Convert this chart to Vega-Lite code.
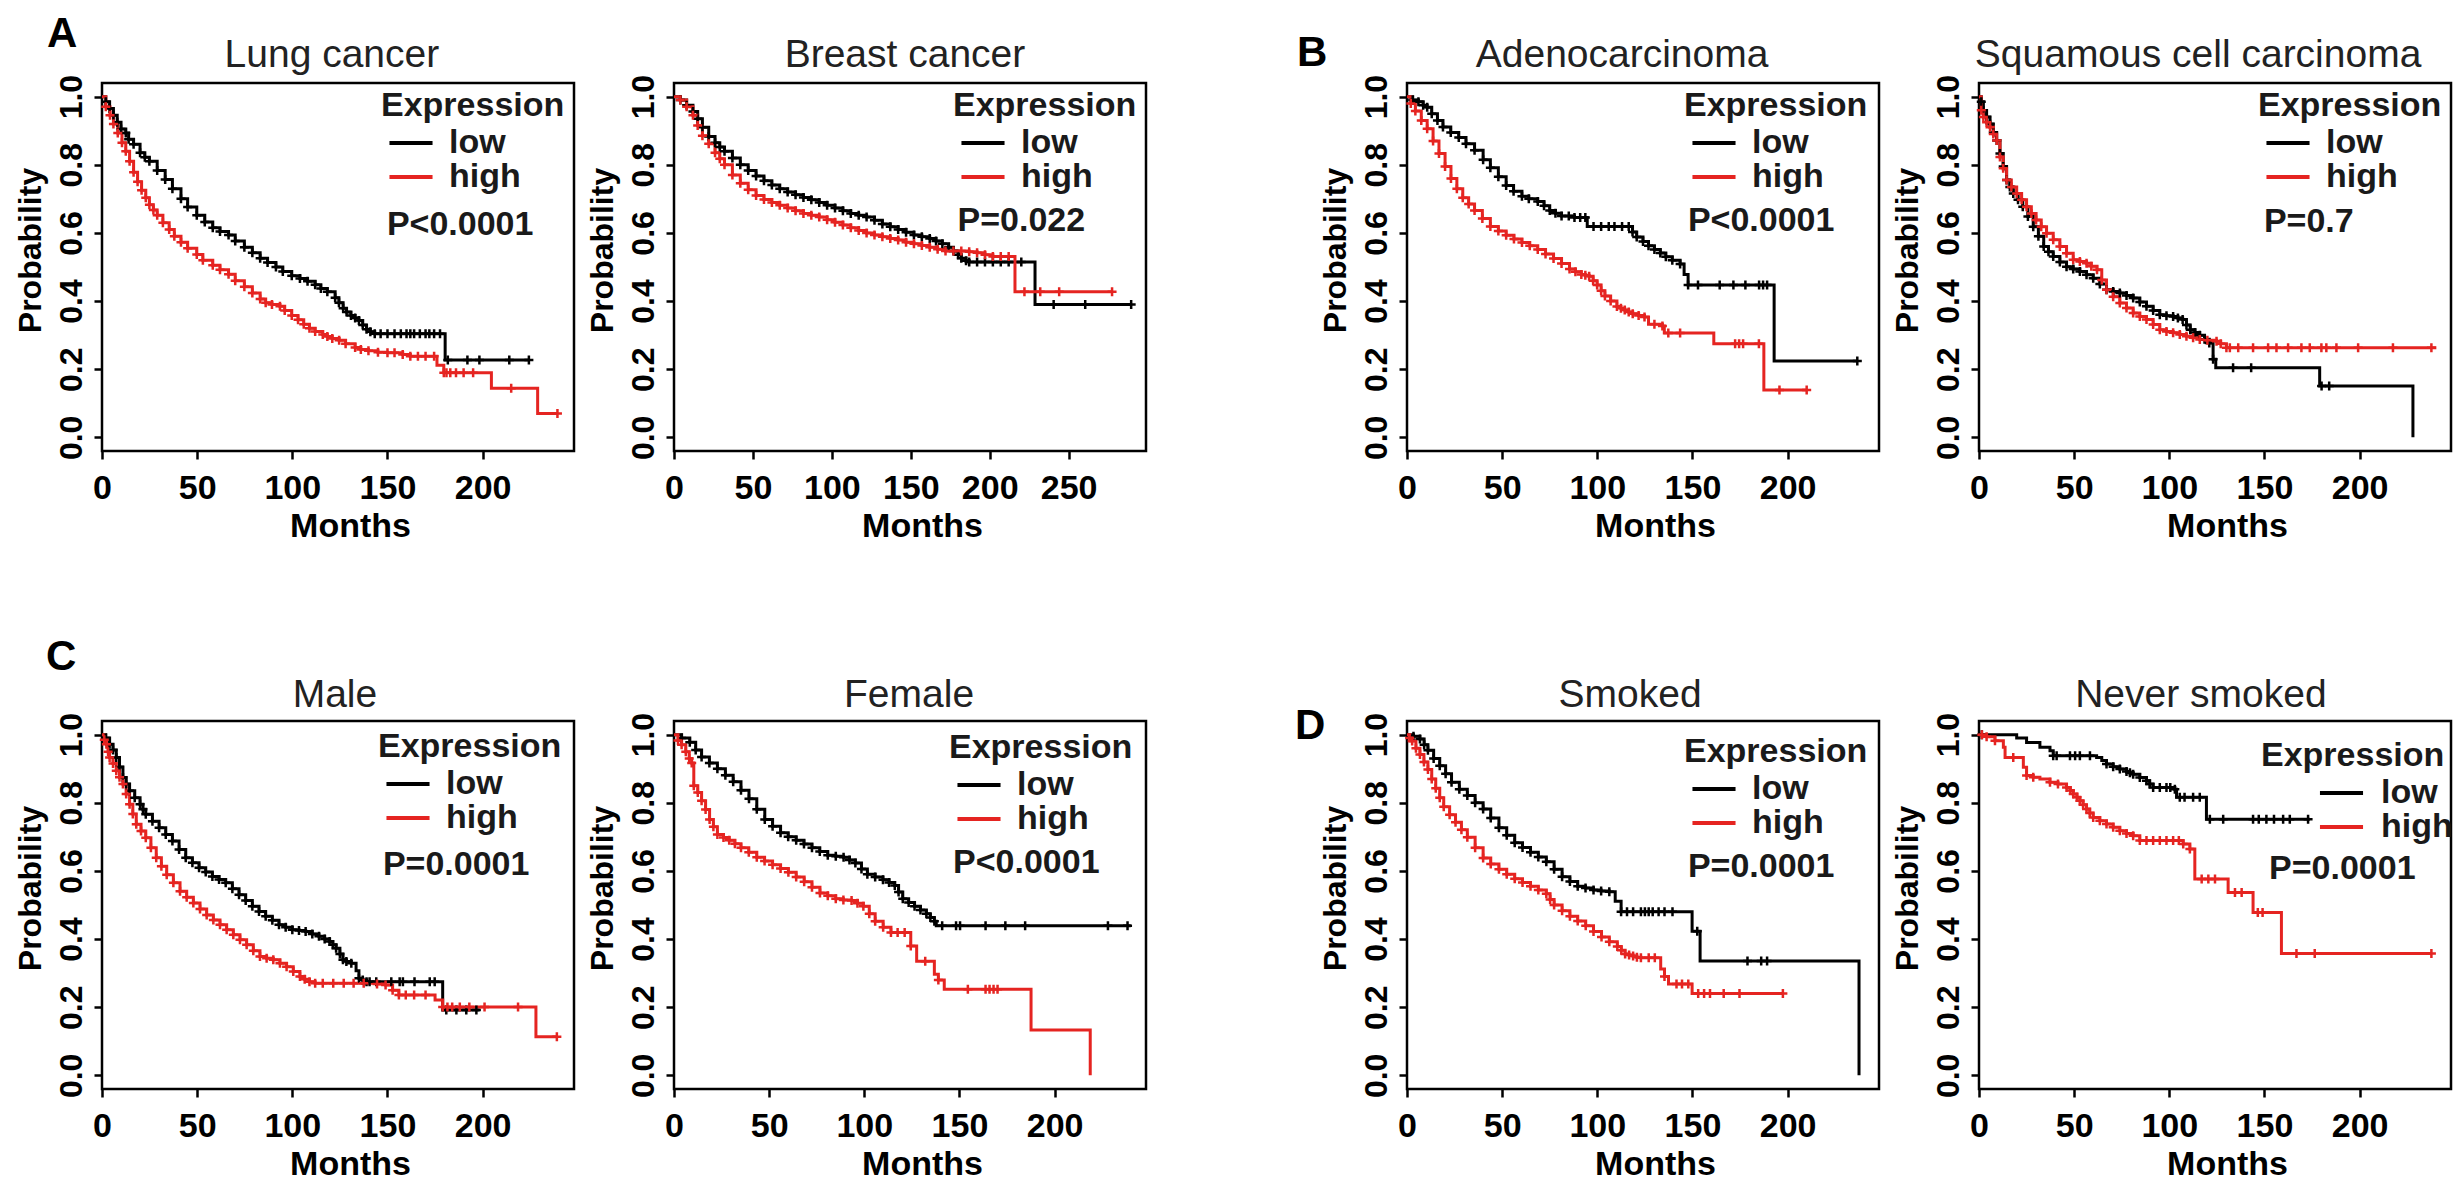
{
"$schema": "https://vega.github.io/schema/vega-lite/v6.json",
"padding": {"left": 12, "top": 11, "right": 0, "bottom": 0},
"bounds": "flush",
"columns": 5,
"spacing": {"row": 270, "column": 100},
"resolve": {"scale": {"color": "independent"}, "legend": {"color": "independent"}},
"datasets": {
"notes": [
{"p":1,"k":"L","txt":"A"},{"p":3,"k":"L","txt":"B"},{"p":5,"k":"L","txt":"C"},{"p":7,"k":"L","txt":"D"},
{"p":1,"k":"T","txt":"Lung cancer"},{"p":2,"k":"T","txt":"Breast cancer"},{"p":3,"k":"T","txt":"Adenocarcinoma"},{"p":4,"k":"T","txt":"Squamous cell carcinoma"},
{"p":5,"k":"T","txt":"Male"},{"p":6,"k":"T","txt":"Female"},{"p":7,"k":"T","txt":"Smoked"},{"p":8,"k":"T","txt":"Never smoked"},
{"p":1,"k":"P","txt":"P<0.0001"},{"p":2,"k":"P","txt":"P=0.022"},{"p":3,"k":"P","txt":"P<0.0001"},{"p":4,"k":"P","txt":"P=0.7"},
{"p":5,"k":"P","txt":"P=0.0001"},{"p":6,"k":"P","txt":"P<0.0001"},{"p":7,"k":"P","txt":"P=0.0001"},{"p":8,"k":"P","txt":"P=0.0001"}
],
"km": [
{"p":1,"g":"low","t":0,"s":1},{"p":1,"g":"low","t":2,"s":0.985,"c":1},{"p":1,"g":"low","t":4,"s":0.965,"c":1},{"p":1,"g":"low","t":6,"s":0.945,"c":1},{"p":1,"g":"low","t":8,"s":0.925,"c":1},{"p":1,"g":"low","t":10,"s":0.905,"c":1},{"p":1,"g":"low","t":12.5,"s":0.893,"c":1},{"p":1,"g":"low","t":14,"s":0.875,"c":1},{"p":1,"g":"low","t":16.6,"s":0.86,"c":1},{"p":1,"g":"low","t":20,"s":0.835,"c":1},{"p":1,"g":"low","t":22.5,"s":0.822,"c":1},{"p":1,"g":"low","t":24.9,"s":0.81,"c":1},{"p":1,"g":"low","t":29,"s":0.783,"c":1},{"p":1,"g":"low","t":33.2,"s":0.757,"c":1},{"p":1,"g":"low","t":37,"s":0.73,"c":1},{"p":1,"g":"low","t":41.5,"s":0.7,"c":1},{"p":1,"g":"low","t":45,"s":0.676,"c":1},{"p":1,"g":"low","t":49.8,"s":0.652,"c":1},{"p":1,"g":"low","t":54,"s":0.632,"c":1},{"p":1,"g":"low","t":58.2,"s":0.615,"c":1},{"p":1,"g":"low","t":62,"s":0.604,"c":1},{"p":1,"g":"low","t":66.5,"s":0.594,"c":1},{"p":1,"g":"low","t":70,"s":0.576,"c":1},{"p":1,"g":"low","t":74.8,"s":0.558,"c":1},{"p":1,"g":"low","t":79,"s":0.542,"c":1},{"p":1,"g":"low","t":83.1,"s":0.526,"c":1},{"p":1,"g":"low","t":87,"s":0.513,"c":1},{"p":1,"g":"low","t":91.4,"s":0.5,"c":1},{"p":1,"g":"low","t":95,"s":0.487,"c":1},{"p":1,"g":"low","t":99.7,"s":0.474,"c":1},{"p":1,"g":"low","t":104,"s":0.466,"c":1},{"p":1,"g":"low","t":108,"s":0.458,"c":1},{"p":1,"g":"low","t":112,"s":0.448,"c":1},{"p":1,"g":"low","t":115,"s":0.437,"c":1},{"p":1,"g":"low","t":118.4,"s":0.427,"c":1},{"p":1,"g":"low","t":122.5,"s":0.41,"c":1},{"p":1,"g":"low","t":124.5,"s":0.395,"c":1},{"p":1,"g":"low","t":126.7,"s":0.379,"c":1},{"p":1,"g":"low","t":128.5,"s":0.368,"c":1},{"p":1,"g":"low","t":130.8,"s":0.358,"c":1},{"p":1,"g":"low","t":133,"s":0.35,"c":1},{"p":1,"g":"low","t":135,"s":0.343,"c":1},{"p":1,"g":"low","t":137,"s":0.33,"c":1},{"p":1,"g":"low","t":139,"s":0.317,"c":1},{"p":1,"g":"low","t":141,"s":0.31,"c":1},{"p":1,"g":"low","t":143.3,"s":0.304,"c":1},{"p":1,"g":"low","t":146.4,"s":0.304,"c":1},{"p":1,"g":"low","t":150,"s":0.304,"c":1},{"p":1,"g":"low","t":153.7,"s":0.304,"c":1},{"p":1,"g":"low","t":157,"s":0.304,"c":1},{"p":1,"g":"low","t":160,"s":0.304,"c":1},{"p":1,"g":"low","t":162,"s":0.304,"c":1},{"p":1,"g":"low","t":164,"s":0.304,"c":1},{"p":1,"g":"low","t":167,"s":0.304,"c":1},{"p":1,"g":"low","t":170,"s":0.304,"c":1},{"p":1,"g":"low","t":172,"s":0.304,"c":1},{"p":1,"g":"low","t":174.5,"s":0.304,"c":1},{"p":1,"g":"low","t":177.6,"s":0.304,"c":1},{"p":1,"g":"low","t":180.3,"s":0.227},{"p":1,"g":"low","t":181.7,"s":0.227,"c":1},{"p":1,"g":"low","t":192,"s":0.227,"c":1},{"p":1,"g":"low","t":198.3,"s":0.227,"c":1},{"p":1,"g":"low","t":214,"s":0.227,"c":1},{"p":1,"g":"low","t":224.3,"s":0.227,"c":1},
{"p":1,"g":"high","t":0,"s":1},{"p":1,"g":"high","t":2,"s":0.97,"c":1},{"p":1,"g":"high","t":4.2,"s":0.945,"c":1},{"p":1,"g":"high","t":6,"s":0.92,"c":1},{"p":1,"g":"high","t":8.3,"s":0.893,"c":1},{"p":1,"g":"high","t":10.5,"s":0.865,"c":1},{"p":1,"g":"high","t":12.5,"s":0.84,"c":1},{"p":1,"g":"high","t":14.5,"s":0.81,"c":1},{"p":1,"g":"high","t":16.6,"s":0.778,"c":1},{"p":1,"g":"high","t":18.7,"s":0.75,"c":1},{"p":1,"g":"high","t":20.8,"s":0.725,"c":1},{"p":1,"g":"high","t":23,"s":0.703,"c":1},{"p":1,"g":"high","t":24.9,"s":0.683,"c":1},{"p":1,"g":"high","t":27,"s":0.667,"c":1},{"p":1,"g":"high","t":29,"s":0.652,"c":1},{"p":1,"g":"high","t":32,"s":0.63,"c":1},{"p":1,"g":"high","t":35.3,"s":0.61,"c":1},{"p":1,"g":"high","t":38,"s":0.59,"c":1},{"p":1,"g":"high","t":41.5,"s":0.573,"c":1},{"p":1,"g":"high","t":45,"s":0.555,"c":1},{"p":1,"g":"high","t":49.8,"s":0.537,"c":1},{"p":1,"g":"high","t":53,"s":0.52,"c":1},{"p":1,"g":"high","t":58.2,"s":0.505,"c":1},{"p":1,"g":"high","t":62,"s":0.492,"c":1},{"p":1,"g":"high","t":66.5,"s":0.479,"c":1},{"p":1,"g":"high","t":70,"s":0.46,"c":1},{"p":1,"g":"high","t":74.8,"s":0.442,"c":1},{"p":1,"g":"high","t":79,"s":0.424,"c":1},{"p":1,"g":"high","t":83.1,"s":0.406,"c":1},{"p":1,"g":"high","t":86,"s":0.395,"c":1},{"p":1,"g":"high","t":89.3,"s":0.39,"c":1},{"p":1,"g":"high","t":93.5,"s":0.385,"c":1},{"p":1,"g":"high","t":96,"s":0.372,"c":1},{"p":1,"g":"high","t":99.7,"s":0.358,"c":1},{"p":1,"g":"high","t":103,"s":0.345,"c":1},{"p":1,"g":"high","t":106,"s":0.332,"c":1},{"p":1,"g":"high","t":109,"s":0.32,"c":1},{"p":1,"g":"high","t":112,"s":0.311,"c":1},{"p":1,"g":"high","t":116,"s":0.302,"c":1},{"p":1,"g":"high","t":118.4,"s":0.296,"c":1},{"p":1,"g":"high","t":121,"s":0.29,"c":1},{"p":1,"g":"high","t":124.6,"s":0.285,"c":1},{"p":1,"g":"high","t":128,"s":0.275,"c":1},{"p":1,"g":"high","t":133,"s":0.264,"c":1},{"p":1,"g":"high","t":136,"s":0.258,"c":1},{"p":1,"g":"high","t":140,"s":0.254,"c":1},{"p":1,"g":"high","t":145,"s":0.25,"c":1},{"p":1,"g":"high","t":150,"s":0.248,"c":1},{"p":1,"g":"high","t":153.7,"s":0.248,"c":1},{"p":1,"g":"high","t":158,"s":0.243,"c":1},{"p":1,"g":"high","t":162,"s":0.238,"c":1},{"p":1,"g":"high","t":166,"s":0.238,"c":1},{"p":1,"g":"high","t":170,"s":0.238,"c":1},{"p":1,"g":"high","t":174.5,"s":0.238,"c":1},{"p":1,"g":"high","t":176,"s":0.212},{"p":1,"g":"high","t":179.6,"s":0.19,"c":1},{"p":1,"g":"high","t":181,"s":0.19,"c":1},{"p":1,"g":"high","t":183,"s":0.19,"c":1},{"p":1,"g":"high","t":186,"s":0.19,"c":1},{"p":1,"g":"high","t":190,"s":0.19,"c":1},{"p":1,"g":"high","t":195,"s":0.19,"c":1},{"p":1,"g":"high","t":204.6,"s":0.144},{"p":1,"g":"high","t":215,"s":0.144,"c":1},{"p":1,"g":"high","t":228.9,"s":0.07},{"p":1,"g":"high","t":239.3,"s":0.07,"c":1},
{"p":2,"g":"low","t":0,"s":1},{"p":2,"g":"low","t":4,"s":0.99,"c":1},{"p":2,"g":"low","t":8,"s":0.975,"c":1},{"p":2,"g":"low","t":12,"s":0.956,"c":1},{"p":2,"g":"low","t":15,"s":0.935,"c":1},{"p":2,"g":"low","t":18,"s":0.91,"c":1},{"p":2,"g":"low","t":22,"s":0.883,"c":1},{"p":2,"g":"low","t":26,"s":0.865,"c":1},{"p":2,"g":"low","t":29,"s":0.852,"c":1},{"p":2,"g":"low","t":32,"s":0.84,"c":1},{"p":2,"g":"low","t":37,"s":0.82,"c":1},{"p":2,"g":"low","t":42,"s":0.8,"c":1},{"p":2,"g":"low","t":47,"s":0.783,"c":1},{"p":2,"g":"low","t":52,"s":0.767,"c":1},{"p":2,"g":"low","t":57,"s":0.753,"c":1},{"p":2,"g":"low","t":62,"s":0.741,"c":1},{"p":2,"g":"low","t":67,"s":0.73,"c":1},{"p":2,"g":"low","t":72,"s":0.72,"c":1},{"p":2,"g":"low","t":77,"s":0.712,"c":1},{"p":2,"g":"low","t":82,"s":0.704,"c":1},{"p":2,"g":"low","t":87,"s":0.697,"c":1},{"p":2,"g":"low","t":92,"s":0.689,"c":1},{"p":2,"g":"low","t":97,"s":0.681,"c":1},{"p":2,"g":"low","t":102,"s":0.673,"c":1},{"p":2,"g":"low","t":107,"s":0.665,"c":1},{"p":2,"g":"low","t":112,"s":0.657,"c":1},{"p":2,"g":"low","t":117,"s":0.652,"c":1},{"p":2,"g":"low","t":122,"s":0.647,"c":1},{"p":2,"g":"low","t":127,"s":0.637,"c":1},{"p":2,"g":"low","t":132,"s":0.626,"c":1},{"p":2,"g":"low","t":137,"s":0.618,"c":1},{"p":2,"g":"low","t":142,"s":0.61,"c":1},{"p":2,"g":"low","t":147,"s":0.602,"c":1},{"p":2,"g":"low","t":152,"s":0.594,"c":1},{"p":2,"g":"low","t":157,"s":0.589,"c":1},{"p":2,"g":"low","t":162,"s":0.584,"c":1},{"p":2,"g":"low","t":166,"s":0.576,"c":1},{"p":2,"g":"low","t":170,"s":0.568,"c":1},{"p":2,"g":"low","t":174,"s":0.558,"c":1},{"p":2,"g":"low","t":177,"s":0.547,"c":1},{"p":2,"g":"low","t":180,"s":0.536,"c":1},{"p":2,"g":"low","t":182,"s":0.526,"c":1},{"p":2,"g":"low","t":185,"s":0.518,"c":1},{"p":2,"g":"low","t":187,"s":0.515,"c":1},{"p":2,"g":"low","t":192,"s":0.515,"c":1},{"p":2,"g":"low","t":197,"s":0.515,"c":1},{"p":2,"g":"low","t":202,"s":0.515,"c":1},{"p":2,"g":"low","t":207,"s":0.515,"c":1},{"p":2,"g":"low","t":212,"s":0.515,"c":1},{"p":2,"g":"low","t":220,"s":0.515,"c":1},{"p":2,"g":"low","t":228.7,"s":0.39},{"p":2,"g":"low","t":240.5,"s":0.39,"c":1},{"p":2,"g":"low","t":260.5,"s":0.39,"c":1},{"p":2,"g":"low","t":289.6,"s":0.39,"c":1},
{"p":2,"g":"high","t":0,"s":1},{"p":2,"g":"high","t":4,"s":0.99,"c":1},{"p":2,"g":"high","t":8,"s":0.97,"c":1},{"p":2,"g":"high","t":12,"s":0.945,"c":1},{"p":2,"g":"high","t":15,"s":0.915,"c":1},{"p":2,"g":"high","t":18,"s":0.885,"c":1},{"p":2,"g":"high","t":22,"s":0.862,"c":1},{"p":2,"g":"high","t":26,"s":0.835,"c":1},{"p":2,"g":"high","t":29,"s":0.818,"c":1},{"p":2,"g":"high","t":32,"s":0.8,"c":1},{"p":2,"g":"high","t":37,"s":0.77,"c":1},{"p":2,"g":"high","t":42,"s":0.746,"c":1},{"p":2,"g":"high","t":47,"s":0.727,"c":1},{"p":2,"g":"high","t":52,"s":0.71,"c":1},{"p":2,"g":"high","t":57,"s":0.698,"c":1},{"p":2,"g":"high","t":62,"s":0.689,"c":1},{"p":2,"g":"high","t":67,"s":0.681,"c":1},{"p":2,"g":"high","t":72,"s":0.673,"c":1},{"p":2,"g":"high","t":77,"s":0.665,"c":1},{"p":2,"g":"high","t":82,"s":0.657,"c":1},{"p":2,"g":"high","t":87,"s":0.652,"c":1},{"p":2,"g":"high","t":92,"s":0.647,"c":1},{"p":2,"g":"high","t":97,"s":0.639,"c":1},{"p":2,"g":"high","t":102,"s":0.631,"c":1},{"p":2,"g":"high","t":107,"s":0.623,"c":1},{"p":2,"g":"high","t":112,"s":0.615,"c":1},{"p":2,"g":"high","t":117,"s":0.607,"c":1},{"p":2,"g":"high","t":122,"s":0.6,"c":1},{"p":2,"g":"high","t":127,"s":0.594,"c":1},{"p":2,"g":"high","t":132,"s":0.589,"c":1},{"p":2,"g":"high","t":137,"s":0.584,"c":1},{"p":2,"g":"high","t":142,"s":0.579,"c":1},{"p":2,"g":"high","t":147,"s":0.573,"c":1},{"p":2,"g":"high","t":152,"s":0.568,"c":1},{"p":2,"g":"high","t":157,"s":0.563,"c":1},{"p":2,"g":"high","t":162,"s":0.558,"c":1},{"p":2,"g":"high","t":167,"s":0.552,"c":1},{"p":2,"g":"high","t":172,"s":0.547,"c":1},{"p":2,"g":"high","t":177,"s":0.547,"c":1},{"p":2,"g":"high","t":182,"s":0.547,"c":1},{"p":2,"g":"high","t":187,"s":0.545,"c":1},{"p":2,"g":"high","t":192,"s":0.542,"c":1},{"p":2,"g":"high","t":197,"s":0.536,"c":1},{"p":2,"g":"high","t":202,"s":0.531,"c":1},{"p":2,"g":"high","t":207,"s":0.531,"c":1},{"p":2,"g":"high","t":212,"s":0.531,"c":1},{"p":2,"g":"high","t":216,"s":0.427},{"p":2,"g":"high","t":222,"s":0.427,"c":1},{"p":2,"g":"high","t":232,"s":0.427,"c":1},{"p":2,"g":"high","t":244,"s":0.427,"c":1},{"p":2,"g":"high","t":277.5,"s":0.427,"c":1},
{"p":3,"g":"low","t":0,"s":1},{"p":3,"g":"low","t":3,"s":0.99,"c":1},{"p":3,"g":"low","t":6,"s":0.985,"c":1},{"p":3,"g":"low","t":8.5,"s":0.975,"c":1},{"p":3,"g":"low","t":10.6,"s":0.969,"c":1},{"p":3,"g":"low","t":13,"s":0.95,"c":1},{"p":3,"g":"low","t":16,"s":0.93,"c":1},{"p":3,"g":"low","t":18.9,"s":0.911,"c":1},{"p":3,"g":"low","t":23,"s":0.895,"c":1},{"p":3,"g":"low","t":27.2,"s":0.88,"c":1},{"p":3,"g":"low","t":31,"s":0.862,"c":1},{"p":3,"g":"low","t":35.5,"s":0.843,"c":1},{"p":3,"g":"low","t":40,"s":0.815,"c":1},{"p":3,"g":"low","t":43.8,"s":0.791,"c":1},{"p":3,"g":"low","t":48,"s":0.765,"c":1},{"p":3,"g":"low","t":52.1,"s":0.739,"c":1},{"p":3,"g":"low","t":56,"s":0.722,"c":1},{"p":3,"g":"low","t":60.4,"s":0.708,"c":1},{"p":3,"g":"low","t":64,"s":0.7,"c":1},{"p":3,"g":"low","t":68.7,"s":0.692,"c":1},{"p":3,"g":"low","t":72,"s":0.68,"c":1},{"p":3,"g":"low","t":75,"s":0.666,"c":1},{"p":3,"g":"low","t":78,"s":0.658,"c":1},{"p":3,"g":"low","t":81.2,"s":0.65,"c":1},{"p":3,"g":"low","t":85,"s":0.65,"c":1},{"p":3,"g":"low","t":88,"s":0.645,"c":1},{"p":3,"g":"low","t":91,"s":0.645,"c":1},{"p":3,"g":"low","t":93.7,"s":0.645,"c":1},{"p":3,"g":"low","t":94.7,"s":0.619},{"p":3,"g":"low","t":98,"s":0.619,"c":1},{"p":3,"g":"low","t":102,"s":0.619,"c":1},{"p":3,"g":"low","t":106,"s":0.619,"c":1},{"p":3,"g":"low","t":109,"s":0.619,"c":1},{"p":3,"g":"low","t":113,"s":0.619,"c":1},{"p":3,"g":"low","t":116.5,"s":0.619,"c":1},{"p":3,"g":"low","t":118.5,"s":0.603,"c":1},{"p":3,"g":"low","t":120.7,"s":0.588,"c":1},{"p":3,"g":"low","t":124,"s":0.575,"c":1},{"p":3,"g":"low","t":126.9,"s":0.562,"c":1},{"p":3,"g":"low","t":130,"s":0.551,"c":1},{"p":3,"g":"low","t":133.1,"s":0.541,"c":1},{"p":3,"g":"low","t":136,"s":0.53,"c":1},{"p":3,"g":"low","t":139.4,"s":0.52,"c":1},{"p":3,"g":"low","t":143.5,"s":0.509,"c":1},{"p":3,"g":"low","t":145.6,"s":0.478},{"p":3,"g":"low","t":147.7,"s":0.447,"c":1},{"p":3,"g":"low","t":152.9,"s":0.447,"c":1},{"p":3,"g":"low","t":164.3,"s":0.447,"c":1},{"p":3,"g":"low","t":171.5,"s":0.447,"c":1},{"p":3,"g":"low","t":177.8,"s":0.447,"c":1},{"p":3,"g":"low","t":185,"s":0.447,"c":1},{"p":3,"g":"low","t":187.1,"s":0.447,"c":1},{"p":3,"g":"low","t":189.2,"s":0.447,"c":1},{"p":3,"g":"low","t":192.9,"s":0.224},{"p":3,"g":"low","t":236.6,"s":0.224,"c":1},
{"p":3,"g":"high","t":0,"s":1},{"p":3,"g":"high","t":2,"s":0.98,"c":1},{"p":3,"g":"high","t":4.4,"s":0.958,"c":1},{"p":3,"g":"high","t":7.5,"s":0.93,"c":1},{"p":3,"g":"high","t":10.6,"s":0.906,"c":1},{"p":3,"g":"high","t":13.7,"s":0.87,"c":1},{"p":3,"g":"high","t":16.8,"s":0.833,"c":1},{"p":3,"g":"high","t":20,"s":0.795,"c":1},{"p":3,"g":"high","t":23.1,"s":0.76,"c":1},{"p":3,"g":"high","t":26.2,"s":0.73,"c":1},{"p":3,"g":"high","t":29.3,"s":0.703,"c":1},{"p":3,"g":"high","t":32.4,"s":0.685,"c":1},{"p":3,"g":"high","t":35.5,"s":0.666,"c":1},{"p":3,"g":"high","t":39.6,"s":0.642,"c":1},{"p":3,"g":"high","t":43.8,"s":0.619,"c":1},{"p":3,"g":"high","t":48,"s":0.606,"c":1},{"p":3,"g":"high","t":52.1,"s":0.593,"c":1},{"p":3,"g":"high","t":56.2,"s":0.582,"c":1},{"p":3,"g":"high","t":60.4,"s":0.572,"c":1},{"p":3,"g":"high","t":64.5,"s":0.562,"c":1},{"p":3,"g":"high","t":68.7,"s":0.551,"c":1},{"p":3,"g":"high","t":72.8,"s":0.538,"c":1},{"p":3,"g":"high","t":77,"s":0.525,"c":1},{"p":3,"g":"high","t":81.2,"s":0.51,"c":1},{"p":3,"g":"high","t":85.4,"s":0.494,"c":1},{"p":3,"g":"high","t":88.5,"s":0.486,"c":1},{"p":3,"g":"high","t":91.6,"s":0.478,"c":1},{"p":3,"g":"high","t":93.7,"s":0.476,"c":1},{"p":3,"g":"high","t":95.7,"s":0.473,"c":1},{"p":3,"g":"high","t":97.8,"s":0.46,"c":1},{"p":3,"g":"high","t":99.9,"s":0.447,"c":1},{"p":3,"g":"high","t":102,"s":0.43,"c":1},{"p":3,"g":"high","t":104,"s":0.415,"c":1},{"p":3,"g":"high","t":107,"s":0.4,"c":1},{"p":3,"g":"high","t":110.3,"s":0.384,"c":1},{"p":3,"g":"high","t":112.4,"s":0.379,"c":1},{"p":3,"g":"high","t":114.4,"s":0.374,"c":1},{"p":3,"g":"high","t":116.5,"s":0.368,"c":1},{"p":3,"g":"high","t":118.6,"s":0.363,"c":1},{"p":3,"g":"high","t":121.7,"s":0.358,"c":1},{"p":3,"g":"high","t":124.8,"s":0.353,"c":1},{"p":3,"g":"high","t":126.9,"s":0.332},{"p":3,"g":"high","t":130,"s":0.332,"c":1},{"p":3,"g":"high","t":134.2,"s":0.327,"c":1},{"p":3,"g":"high","t":135.2,"s":0.306},{"p":3,"g":"high","t":137.3,"s":0.306,"c":1},{"p":3,"g":"high","t":143.5,"s":0.306,"c":1},{"p":3,"g":"high","t":161.2,"s":0.275},{"p":3,"g":"high","t":172.4,"s":0.275,"c":1},{"p":3,"g":"high","t":174.5,"s":0.275,"c":1},{"p":3,"g":"high","t":176.6,"s":0.275,"c":1},{"p":3,"g":"high","t":184.9,"s":0.275,"c":1},{"p":3,"g":"high","t":187.5,"s":0.139},{"p":3,"g":"high","t":195.7,"s":0.139,"c":1},{"p":3,"g":"high","t":210,"s":0.139,"c":1},
{"p":4,"g":"low","t":0,"s":1},{"p":4,"g":"low","t":1.2,"s":0.985,"c":1},{"p":4,"g":"low","t":2.3,"s":0.959,"c":1},{"p":4,"g":"low","t":4,"s":0.94,"c":1},{"p":4,"g":"low","t":5.8,"s":0.92,"c":1},{"p":4,"g":"low","t":7.5,"s":0.895,"c":1},{"p":4,"g":"low","t":9.3,"s":0.871,"c":1},{"p":4,"g":"low","t":11,"s":0.833,"c":1},{"p":4,"g":"low","t":12.7,"s":0.795,"c":1},{"p":4,"g":"low","t":14.5,"s":0.755,"c":1},{"p":4,"g":"low","t":16.2,"s":0.735,"c":1},{"p":4,"g":"low","t":18,"s":0.716,"c":1},{"p":4,"g":"low","t":20.5,"s":0.697,"c":1},{"p":4,"g":"low","t":23,"s":0.677,"c":1},{"p":4,"g":"low","t":25.7,"s":0.648,"c":1},{"p":4,"g":"low","t":28.5,"s":0.618,"c":1},{"p":4,"g":"low","t":31.2,"s":0.59,"c":1},{"p":4,"g":"low","t":34,"s":0.56,"c":1},{"p":4,"g":"low","t":36.5,"s":0.545,"c":1},{"p":4,"g":"low","t":39,"s":0.531,"c":1},{"p":4,"g":"low","t":42.5,"s":0.515,"c":1},{"p":4,"g":"low","t":46,"s":0.501,"c":1},{"p":4,"g":"low","t":49.5,"s":0.494,"c":1},{"p":4,"g":"low","t":53,"s":0.487,"c":1},{"p":4,"g":"low","t":56.5,"s":0.477,"c":1},{"p":4,"g":"low","t":60,"s":0.467,"c":1},{"p":4,"g":"low","t":63.5,"s":0.45,"c":1},{"p":4,"g":"low","t":67,"s":0.433,"c":1},{"p":4,"g":"low","t":70.5,"s":0.428,"c":1},{"p":4,"g":"low","t":74,"s":0.424,"c":1},{"p":4,"g":"low","t":77.5,"s":0.416,"c":1},{"p":4,"g":"low","t":81,"s":0.409,"c":1},{"p":4,"g":"low","t":84.5,"s":0.397,"c":1},{"p":4,"g":"low","t":88,"s":0.385,"c":1},{"p":4,"g":"low","t":91.5,"s":0.372,"c":1},{"p":4,"g":"low","t":95,"s":0.36,"c":1},{"p":4,"g":"low","t":98.5,"s":0.357,"c":1},{"p":4,"g":"low","t":102,"s":0.355,"c":1},{"p":4,"g":"low","t":104.5,"s":0.35,"c":1},{"p":4,"g":"low","t":107,"s":0.346,"c":1},{"p":4,"g":"low","t":109,"s":0.33,"c":1},{"p":4,"g":"low","t":111,"s":0.316,"c":1},{"p":4,"g":"low","t":113.5,"s":0.308,"c":1},{"p":4,"g":"low","t":116,"s":0.3,"c":1},{"p":4,"g":"low","t":118.5,"s":0.288,"c":1},{"p":4,"g":"low","t":121,"s":0.277,"c":1},{"p":4,"g":"low","t":123,"s":0.229,"c":1},{"p":4,"g":"low","t":124.4,"s":0.204},{"p":4,"g":"low","t":133.5,"s":0.204,"c":1},{"p":4,"g":"low","t":143,"s":0.204,"c":1},{"p":4,"g":"low","t":179,"s":0.151},{"p":4,"g":"low","t":180,"s":0.151,"c":1},{"p":4,"g":"low","t":184,"s":0.151,"c":1},{"p":4,"g":"low","t":228,"s":0},
{"p":4,"g":"high","t":0,"s":1},{"p":4,"g":"high","t":1.2,"s":0.96,"c":1},{"p":4,"g":"high","t":2.3,"s":0.94,"c":1},{"p":4,"g":"high","t":4,"s":0.925,"c":1},{"p":4,"g":"high","t":5.8,"s":0.91,"c":1},{"p":4,"g":"high","t":7.5,"s":0.89,"c":1},{"p":4,"g":"high","t":9.3,"s":0.871,"c":1},{"p":4,"g":"high","t":11,"s":0.823,"c":1},{"p":4,"g":"high","t":12.7,"s":0.79,"c":1},{"p":4,"g":"high","t":14.5,"s":0.755,"c":1},{"p":4,"g":"high","t":17,"s":0.735,"c":1},{"p":4,"g":"high","t":19.8,"s":0.716,"c":1},{"p":4,"g":"high","t":22.4,"s":0.697,"c":1},{"p":4,"g":"high","t":25,"s":0.677,"c":1},{"p":4,"g":"high","t":27.5,"s":0.657,"c":1},{"p":4,"g":"high","t":30,"s":0.638,"c":1},{"p":4,"g":"high","t":32.7,"s":0.618,"c":1},{"p":4,"g":"high","t":35.5,"s":0.599,"c":1},{"p":4,"g":"high","t":39,"s":0.58,"c":1},{"p":4,"g":"high","t":42.5,"s":0.56,"c":1},{"p":4,"g":"high","t":46,"s":0.54,"c":1},{"p":4,"g":"high","t":49.5,"s":0.521,"c":1},{"p":4,"g":"high","t":53,"s":0.516,"c":1},{"p":4,"g":"high","t":56.5,"s":0.511,"c":1},{"p":4,"g":"high","t":59,"s":0.502,"c":1},{"p":4,"g":"high","t":62,"s":0.492,"c":1},{"p":4,"g":"high","t":64.5,"s":0.462,"c":1},{"p":4,"g":"high","t":67,"s":0.433,"c":1},{"p":4,"g":"high","t":70.5,"s":0.413,"c":1},{"p":4,"g":"high","t":74,"s":0.394,"c":1},{"p":4,"g":"high","t":77.5,"s":0.38,"c":1},{"p":4,"g":"high","t":81,"s":0.365,"c":1},{"p":4,"g":"high","t":84.5,"s":0.355,"c":1},{"p":4,"g":"high","t":88,"s":0.346,"c":1},{"p":4,"g":"high","t":91.5,"s":0.331,"c":1},{"p":4,"g":"high","t":95,"s":0.316,"c":1},{"p":4,"g":"high","t":98.5,"s":0.311,"c":1},{"p":4,"g":"high","t":102,"s":0.307,"c":1},{"p":4,"g":"high","t":105.5,"s":0.302,"c":1},{"p":4,"g":"high","t":109,"s":0.297,"c":1},{"p":4,"g":"high","t":112.5,"s":0.292,"c":1},{"p":4,"g":"high","t":116,"s":0.287,"c":1},{"p":4,"g":"high","t":120,"s":0.285,"c":1},{"p":4,"g":"high","t":124.8,"s":0.282,"c":1},{"p":4,"g":"high","t":127,"s":0.275,"c":1},{"p":4,"g":"high","t":130,"s":0.263,"c":1},{"p":4,"g":"high","t":131.8,"s":0.263,"c":1},{"p":4,"g":"high","t":136.2,"s":0.263,"c":1},{"p":4,"g":"high","t":144,"s":0.263,"c":1},{"p":4,"g":"high","t":151.9,"s":0.263,"c":1},{"p":4,"g":"high","t":156.3,"s":0.263,"c":1},{"p":4,"g":"high","t":162.4,"s":0.263,"c":1},{"p":4,"g":"high","t":169.4,"s":0.263,"c":1},{"p":4,"g":"high","t":173.8,"s":0.263,"c":1},{"p":4,"g":"high","t":179.9,"s":0.263,"c":1},{"p":4,"g":"high","t":182.5,"s":0.263,"c":1},{"p":4,"g":"high","t":187.8,"s":0.263,"c":1},{"p":4,"g":"high","t":199.2,"s":0.263,"c":1},{"p":4,"g":"high","t":217.5,"s":0.263,"c":1},{"p":4,"g":"high","t":237.7,"s":0.263,"c":1},{"p":4,"g":"high","t":240.3,"s":0.263},
{"p":5,"g":"low","t":0,"s":1},{"p":5,"g":"low","t":2,"s":0.99,"c":1},{"p":5,"g":"low","t":4,"s":0.972,"c":1},{"p":5,"g":"low","t":5.8,"s":0.955,"c":1},{"p":5,"g":"low","t":7.5,"s":0.933,"c":1},{"p":5,"g":"low","t":9.2,"s":0.905,"c":1},{"p":5,"g":"low","t":11,"s":0.874,"c":1},{"p":5,"g":"low","t":12.7,"s":0.855,"c":1},{"p":5,"g":"low","t":14.5,"s":0.835,"c":1},{"p":5,"g":"low","t":17.2,"s":0.815,"c":1},{"p":5,"g":"low","t":20,"s":0.796,"c":1},{"p":5,"g":"low","t":21.5,"s":0.781,"c":1},{"p":5,"g":"low","t":23,"s":0.766,"c":1},{"p":5,"g":"low","t":26.5,"s":0.746,"c":1},{"p":5,"g":"low","t":30,"s":0.727,"c":1},{"p":5,"g":"low","t":33.5,"s":0.707,"c":1},{"p":5,"g":"low","t":37,"s":0.688,"c":1},{"p":5,"g":"low","t":40.5,"s":0.663,"c":1},{"p":5,"g":"low","t":44,"s":0.639,"c":1},{"p":5,"g":"low","t":47.5,"s":0.624,"c":1},{"p":5,"g":"low","t":51,"s":0.609,"c":1},{"p":5,"g":"low","t":54.5,"s":0.597,"c":1},{"p":5,"g":"low","t":58,"s":0.584,"c":1},{"p":5,"g":"low","t":61.5,"s":0.575,"c":1},{"p":5,"g":"low","t":65,"s":0.565,"c":1},{"p":5,"g":"low","t":68.5,"s":0.548,"c":1},{"p":5,"g":"low","t":72,"s":0.53,"c":1},{"p":5,"g":"low","t":75.5,"s":0.513,"c":1},{"p":5,"g":"low","t":79,"s":0.496,"c":1},{"p":5,"g":"low","t":82.5,"s":0.481,"c":1},{"p":5,"g":"low","t":86,"s":0.467,"c":1},{"p":5,"g":"low","t":89.5,"s":0.455,"c":1},{"p":5,"g":"low","t":93,"s":0.442,"c":1},{"p":5,"g":"low","t":96.5,"s":0.435,"c":1},{"p":5,"g":"low","t":100,"s":0.427,"c":1},{"p":5,"g":"low","t":103.5,"s":0.425,"c":1},{"p":5,"g":"low","t":107,"s":0.422,"c":1},{"p":5,"g":"low","t":110.5,"s":0.415,"c":1},{"p":5,"g":"low","t":114,"s":0.408,"c":1},{"p":5,"g":"low","t":117,"s":0.4,"c":1},{"p":5,"g":"low","t":119.6,"s":0.393,"c":1},{"p":5,"g":"low","t":121.3,"s":0.383,"c":1},{"p":5,"g":"low","t":123,"s":0.373,"c":1},{"p":5,"g":"low","t":125,"s":0.356,"c":1},{"p":5,"g":"low","t":126.6,"s":0.339,"c":1},{"p":5,"g":"low","t":128.4,"s":0.334,"c":1},{"p":5,"g":"low","t":131,"s":0.329,"c":1},{"p":5,"g":"low","t":133.5,"s":0.307},{"p":5,"g":"low","t":135,"s":0.285,"c":1},{"p":5,"g":"low","t":137,"s":0.28,"c":1},{"p":5,"g":"low","t":139,"s":0.275,"c":1},{"p":5,"g":"low","t":140.6,"s":0.275,"c":1},{"p":5,"g":"low","t":144.1,"s":0.275,"c":1},{"p":5,"g":"low","t":152,"s":0.275,"c":1},{"p":5,"g":"low","t":156.4,"s":0.275,"c":1},{"p":5,"g":"low","t":158.1,"s":0.275,"c":1},{"p":5,"g":"low","t":164.2,"s":0.275,"c":1},{"p":5,"g":"low","t":172.2,"s":0.275,"c":1},{"p":5,"g":"low","t":174.8,"s":0.275,"c":1},{"p":5,"g":"low","t":179,"s":0.192},{"p":5,"g":"low","t":180.9,"s":0.192,"c":1},{"p":5,"g":"low","t":186.2,"s":0.192,"c":1},{"p":5,"g":"low","t":191.4,"s":0.192,"c":1},{"p":5,"g":"low","t":196.7,"s":0.192,"c":1},{"p":5,"g":"low","t":198.4,"s":0.192},
{"p":5,"g":"high","t":0,"s":1},{"p":5,"g":"high","t":1.2,"s":0.985,"c":1},{"p":5,"g":"high","t":2.3,"s":0.972,"c":1},{"p":5,"g":"high","t":3.2,"s":0.95,"c":1},{"p":5,"g":"high","t":4,"s":0.933,"c":1},{"p":5,"g":"high","t":5.8,"s":0.915,"c":1},{"p":5,"g":"high","t":7.5,"s":0.894,"c":1},{"p":5,"g":"high","t":9.2,"s":0.875,"c":1},{"p":5,"g":"high","t":11,"s":0.855,"c":1},{"p":5,"g":"high","t":12.7,"s":0.826,"c":1},{"p":5,"g":"high","t":14.5,"s":0.796,"c":1},{"p":5,"g":"high","t":16.2,"s":0.767,"c":1},{"p":5,"g":"high","t":18,"s":0.737,"c":1},{"p":5,"g":"high","t":20.5,"s":0.717,"c":1},{"p":5,"g":"high","t":23,"s":0.697,"c":1},{"p":5,"g":"high","t":25.7,"s":0.668,"c":1},{"p":5,"g":"high","t":28.5,"s":0.639,"c":1},{"p":5,"g":"high","t":31.2,"s":0.614,"c":1},{"p":5,"g":"high","t":34,"s":0.589,"c":1},{"p":5,"g":"high","t":37.5,"s":0.565,"c":1},{"p":5,"g":"high","t":41,"s":0.54,"c":1},{"p":5,"g":"high","t":44.5,"s":0.523,"c":1},{"p":5,"g":"high","t":48,"s":0.506,"c":1},{"p":5,"g":"high","t":51.5,"s":0.488,"c":1},{"p":5,"g":"high","t":55,"s":0.471,"c":1},{"p":5,"g":"high","t":58.5,"s":0.456,"c":1},{"p":5,"g":"high","t":62,"s":0.442,"c":1},{"p":5,"g":"high","t":65.5,"s":0.427,"c":1},{"p":5,"g":"high","t":69,"s":0.413,"c":1},{"p":5,"g":"high","t":72.5,"s":0.398,"c":1},{"p":5,"g":"high","t":76,"s":0.383,"c":1},{"p":5,"g":"high","t":79.5,"s":0.366,"c":1},{"p":5,"g":"high","t":83,"s":0.349,"c":1},{"p":5,"g":"high","t":86.5,"s":0.344,"c":1},{"p":5,"g":"high","t":90,"s":0.339,"c":1},{"p":5,"g":"high","t":93.5,"s":0.329,"c":1},{"p":5,"g":"high","t":97,"s":0.319,"c":1},{"p":5,"g":"high","t":100.5,"s":0.305,"c":1},{"p":5,"g":"high","t":104,"s":0.29,"c":1},{"p":5,"g":"high","t":106.5,"s":0.282,"c":1},{"p":5,"g":"high","t":109,"s":0.275,"c":1},{"p":5,"g":"high","t":112,"s":0.27,"c":1},{"p":5,"g":"high","t":116,"s":0.27,"c":1},{"p":5,"g":"high","t":121.5,"s":0.27,"c":1},{"p":5,"g":"high","t":127,"s":0.27,"c":1},{"p":5,"g":"high","t":132.2,"s":0.27,"c":1},{"p":5,"g":"high","t":137.5,"s":0.27,"c":1},{"p":5,"g":"high","t":144.5,"s":0.268,"c":1},{"p":5,"g":"high","t":149,"s":0.265,"c":1},{"p":5,"g":"high","t":152.7,"s":0.25,"c":1},{"p":5,"g":"high","t":156,"s":0.236,"c":1},{"p":5,"g":"high","t":159.6,"s":0.236,"c":1},{"p":5,"g":"high","t":164,"s":0.236,"c":1},{"p":5,"g":"high","t":170,"s":0.236,"c":1},{"p":5,"g":"high","t":175,"s":0.221},{"p":5,"g":"high","t":179,"s":0.201,"c":1},{"p":5,"g":"high","t":181.5,"s":0.201,"c":1},{"p":5,"g":"high","t":184,"s":0.201,"c":1},{"p":5,"g":"high","t":188,"s":0.201,"c":1},{"p":5,"g":"high","t":193,"s":0.201,"c":1},{"p":5,"g":"high","t":201,"s":0.201,"c":1},{"p":5,"g":"high","t":218.6,"s":0.201,"c":1},{"p":5,"g":"high","t":228,"s":0.113},{"p":5,"g":"high","t":239,"s":0.113,"c":1},
{"p":6,"g":"low","t":0,"s":1},{"p":6,"g":"low","t":4,"s":0.99,"c":1},{"p":6,"g":"low","t":8.3,"s":0.978,"c":1},{"p":6,"g":"low","t":11.4,"s":0.955,"c":1},{"p":6,"g":"low","t":14.5,"s":0.934,"c":1},{"p":6,"g":"low","t":18.6,"s":0.917,"c":1},{"p":6,"g":"low","t":22.8,"s":0.9,"c":1},{"p":6,"g":"low","t":27,"s":0.881,"c":1},{"p":6,"g":"low","t":31.1,"s":0.862,"c":1},{"p":6,"g":"low","t":35.2,"s":0.837,"c":1},{"p":6,"g":"low","t":39.4,"s":0.812,"c":1},{"p":6,"g":"low","t":43.5,"s":0.781,"c":1},{"p":6,"g":"low","t":47.7,"s":0.751,"c":1},{"p":6,"g":"low","t":51.8,"s":0.731,"c":1},{"p":6,"g":"low","t":56,"s":0.712,"c":1},{"p":6,"g":"low","t":60,"s":0.7,"c":1},{"p":6,"g":"low","t":64.2,"s":0.69,"c":1},{"p":6,"g":"low","t":68.3,"s":0.679,"c":1},{"p":6,"g":"low","t":72.5,"s":0.668,"c":1},{"p":6,"g":"low","t":76.6,"s":0.657,"c":1},{"p":6,"g":"low","t":80.8,"s":0.646,"c":1},{"p":6,"g":"low","t":85,"s":0.643,"c":1},{"p":6,"g":"low","t":89.1,"s":0.64,"c":1},{"p":6,"g":"low","t":92.2,"s":0.632,"c":1},{"p":6,"g":"low","t":95.3,"s":0.623,"c":1},{"p":6,"g":"low","t":98.5,"s":0.606,"c":1},{"p":6,"g":"low","t":101.6,"s":0.59,"c":1},{"p":6,"g":"low","t":105.7,"s":0.582,"c":1},{"p":6,"g":"low","t":109.8,"s":0.574,"c":1},{"p":6,"g":"low","t":113,"s":0.566,"c":1},{"p":6,"g":"low","t":116,"s":0.557,"c":1},{"p":6,"g":"low","t":118,"s":0.538,"c":1},{"p":6,"g":"low","t":120.2,"s":0.518,"c":1},{"p":6,"g":"low","t":123.3,"s":0.507,"c":1},{"p":6,"g":"low","t":126.4,"s":0.496,"c":1},{"p":6,"g":"low","t":129.5,"s":0.485,"c":1},{"p":6,"g":"low","t":132.6,"s":0.474,"c":1},{"p":6,"g":"low","t":134.7,"s":0.463,"c":1},{"p":6,"g":"low","t":136.8,"s":0.452,"c":1},{"p":6,"g":"low","t":137.8,"s":0.439},{"p":6,"g":"low","t":140.9,"s":0.439,"c":1},{"p":6,"g":"low","t":148.2,"s":0.439,"c":1},{"p":6,"g":"low","t":150.3,"s":0.439,"c":1},{"p":6,"g":"low","t":163.7,"s":0.439,"c":1},{"p":6,"g":"low","t":174.1,"s":0.439,"c":1},{"p":6,"g":"low","t":184.5,"s":0.439,"c":1},{"p":6,"g":"low","t":228,"s":0.439,"c":1},{"p":6,"g":"low","t":238.3,"s":0.439,"c":1},{"p":6,"g":"low","t":240,"s":0.439},
{"p":6,"g":"high","t":0,"s":1},{"p":6,"g":"high","t":2.1,"s":0.983,"c":1},{"p":6,"g":"high","t":4,"s":0.97,"c":1},{"p":6,"g":"high","t":6.2,"s":0.95,"c":1},{"p":6,"g":"high","t":8,"s":0.93,"c":1},{"p":6,"g":"high","t":9.3,"s":0.917,"c":1},{"p":6,"g":"high","t":10.4,"s":0.85,"c":1},{"p":6,"g":"high","t":12.5,"s":0.83,"c":1},{"p":6,"g":"high","t":14.5,"s":0.806,"c":1},{"p":6,"g":"high","t":16.6,"s":0.78,"c":1},{"p":6,"g":"high","t":18.7,"s":0.751,"c":1},{"p":6,"g":"high","t":20.7,"s":0.73,"c":1},{"p":6,"g":"high","t":22.8,"s":0.707,"c":1},{"p":6,"g":"high","t":26,"s":0.698,"c":1},{"p":6,"g":"high","t":29,"s":0.69,"c":1},{"p":6,"g":"high","t":32,"s":0.68,"c":1},{"p":6,"g":"high","t":35.2,"s":0.668,"c":1},{"p":6,"g":"high","t":39.3,"s":0.655,"c":1},{"p":6,"g":"high","t":43.5,"s":0.64,"c":1},{"p":6,"g":"high","t":47.6,"s":0.629,"c":1},{"p":6,"g":"high","t":51.8,"s":0.618,"c":1},{"p":6,"g":"high","t":56,"s":0.607,"c":1},{"p":6,"g":"high","t":60.1,"s":0.596,"c":1},{"p":6,"g":"high","t":64.2,"s":0.582,"c":1},{"p":6,"g":"high","t":68.4,"s":0.568,"c":1},{"p":6,"g":"high","t":72.5,"s":0.552,"c":1},{"p":6,"g":"high","t":76.7,"s":0.535,"c":1},{"p":6,"g":"high","t":80.8,"s":0.527,"c":1},{"p":6,"g":"high","t":85,"s":0.518,"c":1},{"p":6,"g":"high","t":89,"s":0.515,"c":1},{"p":6,"g":"high","t":93.3,"s":0.513,"c":1},{"p":6,"g":"high","t":96.4,"s":0.505,"c":1},{"p":6,"g":"high","t":99.5,"s":0.496,"c":1},{"p":6,"g":"high","t":102.6,"s":0.474,"c":1},{"p":6,"g":"high","t":105.7,"s":0.452,"c":1},{"p":6,"g":"high","t":109.9,"s":0.435,"c":1},{"p":6,"g":"high","t":114,"s":0.419,"c":1},{"p":6,"g":"high","t":117.5,"s":0.419,"c":1},{"p":6,"g":"high","t":121.2,"s":0.419,"c":1},{"p":6,"g":"high","t":124.4,"s":0.38,"c":1},{"p":6,"g":"high","t":127.5,"s":0.335},{"p":6,"g":"high","t":132,"s":0.335,"c":1},{"p":6,"g":"high","t":136.8,"s":0.297},{"p":6,"g":"high","t":138.9,"s":0.28,"c":1},{"p":6,"g":"high","t":142,"s":0.253},{"p":6,"g":"high","t":154.4,"s":0.253,"c":1},{"p":6,"g":"high","t":163.7,"s":0.253,"c":1},{"p":6,"g":"high","t":165.8,"s":0.253,"c":1},{"p":6,"g":"high","t":167.9,"s":0.253,"c":1},{"p":6,"g":"high","t":170,"s":0.253,"c":1},{"p":6,"g":"high","t":187.6,"s":0.133},{"p":6,"g":"high","t":218.7,"s":0},
{"p":7,"g":"low","t":0,"s":1},{"p":7,"g":"low","t":3.4,"s":0.995,"c":1},{"p":7,"g":"low","t":6.8,"s":0.987,"c":1},{"p":7,"g":"low","t":9,"s":0.97,"c":1},{"p":7,"g":"low","t":11,"s":0.954,"c":1},{"p":7,"g":"low","t":14,"s":0.93,"c":1},{"p":7,"g":"low","t":17.2,"s":0.909,"c":1},{"p":7,"g":"low","t":20.3,"s":0.885,"c":1},{"p":7,"g":"low","t":23.4,"s":0.86,"c":1},{"p":7,"g":"low","t":27.5,"s":0.84,"c":1},{"p":7,"g":"low","t":31.7,"s":0.821,"c":1},{"p":7,"g":"low","t":35.8,"s":0.8,"c":1},{"p":7,"g":"low","t":40,"s":0.782,"c":1},{"p":7,"g":"low","t":44,"s":0.755,"c":1},{"p":7,"g":"low","t":48.3,"s":0.727,"c":1},{"p":7,"g":"low","t":52.4,"s":0.705,"c":1},{"p":7,"g":"low","t":56.6,"s":0.683,"c":1},{"p":7,"g":"low","t":60.7,"s":0.669,"c":1},{"p":7,"g":"low","t":64.9,"s":0.655,"c":1},{"p":7,"g":"low","t":69,"s":0.641,"c":1},{"p":7,"g":"low","t":73.2,"s":0.627,"c":1},{"p":7,"g":"low","t":77.3,"s":0.605,"c":1},{"p":7,"g":"low","t":81.5,"s":0.583,"c":1},{"p":7,"g":"low","t":85.6,"s":0.569,"c":1},{"p":7,"g":"low","t":89.7,"s":0.555,"c":1},{"p":7,"g":"low","t":93.8,"s":0.55,"c":1},{"p":7,"g":"low","t":98,"s":0.544,"c":1},{"p":7,"g":"low","t":102,"s":0.541,"c":1},{"p":7,"g":"low","t":106.3,"s":0.539,"c":1},{"p":7,"g":"low","t":109.4,"s":0.511},{"p":7,"g":"low","t":112.5,"s":0.48,"c":1},{"p":7,"g":"low","t":115.6,"s":0.48,"c":1},{"p":7,"g":"low","t":118.8,"s":0.48,"c":1},{"p":7,"g":"low","t":122.9,"s":0.48,"c":1},{"p":7,"g":"low","t":125,"s":0.48,"c":1},{"p":7,"g":"low","t":127,"s":0.48,"c":1},{"p":7,"g":"low","t":129.1,"s":0.48,"c":1},{"p":7,"g":"low","t":132.2,"s":0.48,"c":1},{"p":7,"g":"low","t":135.3,"s":0.48,"c":1},{"p":7,"g":"low","t":139.5,"s":0.48,"c":1},{"p":7,"g":"low","t":149.8,"s":0.423},{"p":7,"g":"low","t":152.5,"s":0.423,"c":1},{"p":7,"g":"low","t":154,"s":0.336},{"p":7,"g":"low","t":178.9,"s":0.336,"c":1},{"p":7,"g":"low","t":186.1,"s":0.336,"c":1},{"p":7,"g":"low","t":189.2,"s":0.336,"c":1},{"p":7,"g":"low","t":237.5,"s":0},
{"p":7,"g":"high","t":0,"s":1},{"p":7,"g":"high","t":1.4,"s":0.99,"c":1},{"p":7,"g":"high","t":2.7,"s":0.981,"c":1},{"p":7,"g":"high","t":4.7,"s":0.96,"c":1},{"p":7,"g":"high","t":6.8,"s":0.942,"c":1},{"p":7,"g":"high","t":8.9,"s":0.92,"c":1},{"p":7,"g":"high","t":11,"s":0.898,"c":1},{"p":7,"g":"high","t":13,"s":0.87,"c":1},{"p":7,"g":"high","t":15.1,"s":0.843,"c":1},{"p":7,"g":"high","t":17.2,"s":0.815,"c":1},{"p":7,"g":"high","t":19.3,"s":0.788,"c":1},{"p":7,"g":"high","t":22.4,"s":0.765,"c":1},{"p":7,"g":"high","t":25.5,"s":0.743,"c":1},{"p":7,"g":"high","t":28.6,"s":0.721,"c":1},{"p":7,"g":"high","t":31.7,"s":0.699,"c":1},{"p":7,"g":"high","t":35.8,"s":0.668,"c":1},{"p":7,"g":"high","t":40,"s":0.638,"c":1},{"p":7,"g":"high","t":44,"s":0.62,"c":1},{"p":7,"g":"high","t":48.3,"s":0.605,"c":1},{"p":7,"g":"high","t":52.4,"s":0.59,"c":1},{"p":7,"g":"high","t":56.6,"s":0.577,"c":1},{"p":7,"g":"high","t":60.7,"s":0.566,"c":1},{"p":7,"g":"high","t":64.9,"s":0.555,"c":1},{"p":7,"g":"high","t":69,"s":0.544,"c":1},{"p":7,"g":"high","t":73.2,"s":0.533,"c":1},{"p":7,"g":"high","t":75.2,"s":0.516,"c":1},{"p":7,"g":"high","t":77.3,"s":0.5,"c":1},{"p":7,"g":"high","t":81.5,"s":0.483,"c":1},{"p":7,"g":"high","t":85.6,"s":0.467,"c":1},{"p":7,"g":"high","t":89.7,"s":0.453,"c":1},{"p":7,"g":"high","t":93.9,"s":0.439,"c":1},{"p":7,"g":"high","t":98,"s":0.422,"c":1},{"p":7,"g":"high","t":102.2,"s":0.406,"c":1},{"p":7,"g":"high","t":106.3,"s":0.392,"c":1},{"p":7,"g":"high","t":110.5,"s":0.378,"c":1},{"p":7,"g":"high","t":112.6,"s":0.367,"c":1},{"p":7,"g":"high","t":114.6,"s":0.356,"c":1},{"p":7,"g":"high","t":116.7,"s":0.353,"c":1},{"p":7,"g":"high","t":118.8,"s":0.35,"c":1},{"p":7,"g":"high","t":120.8,"s":0.347,"c":1},{"p":7,"g":"high","t":122.9,"s":0.345,"c":1},{"p":7,"g":"high","t":127,"s":0.345,"c":1},{"p":7,"g":"high","t":130.2,"s":0.345,"c":1},{"p":7,"g":"high","t":133.3,"s":0.312},{"p":7,"g":"high","t":135.3,"s":0.29,"c":1},{"p":7,"g":"high","t":137.4,"s":0.268},{"p":7,"g":"high","t":141.6,"s":0.268,"c":1},{"p":7,"g":"high","t":144.5,"s":0.268,"c":1},{"p":7,"g":"high","t":147.8,"s":0.268,"c":1},{"p":7,"g":"high","t":149.8,"s":0.24},{"p":7,"g":"high","t":153,"s":0.24,"c":1},{"p":7,"g":"high","t":156.1,"s":0.24,"c":1},{"p":7,"g":"high","t":159.2,"s":0.24,"c":1},{"p":7,"g":"high","t":166.4,"s":0.24,"c":1},{"p":7,"g":"high","t":174.7,"s":0.24,"c":1},{"p":7,"g":"high","t":197.5,"s":0.24,"c":1},
{"p":8,"g":"low","t":0,"s":1},{"p":8,"g":"low","t":1.5,"s":1,"c":1},{"p":8,"g":"low","t":19.8,"s":0.99},{"p":8,"g":"low","t":25,"s":0.977},{"p":8,"g":"low","t":32,"s":0.963},{"p":8,"g":"low","t":37.3,"s":0.953},{"p":8,"g":"low","t":39,"s":0.938,"c":1},{"p":8,"g":"low","t":40.8,"s":0.938,"c":1},{"p":8,"g":"low","t":47.8,"s":0.938,"c":1},{"p":8,"g":"low","t":50.5,"s":0.938,"c":1},{"p":8,"g":"low","t":53,"s":0.938,"c":1},{"p":8,"g":"low","t":58.3,"s":0.938,"c":1},{"p":8,"g":"low","t":61.8,"s":0.933},{"p":8,"g":"low","t":64.5,"s":0.924},{"p":8,"g":"low","t":67,"s":0.914,"c":1},{"p":8,"g":"low","t":70.5,"s":0.906,"c":1},{"p":8,"g":"low","t":74,"s":0.899,"c":1},{"p":8,"g":"low","t":77.5,"s":0.892,"c":1},{"p":8,"g":"low","t":79.3,"s":0.888,"c":1},{"p":8,"g":"low","t":81,"s":0.884,"c":1},{"p":8,"g":"low","t":84.5,"s":0.874,"c":1},{"p":8,"g":"low","t":88,"s":0.865,"c":1},{"p":8,"g":"low","t":89.7,"s":0.855,"c":1},{"p":8,"g":"low","t":91.5,"s":0.845,"c":1},{"p":8,"g":"low","t":95,"s":0.845,"c":1},{"p":8,"g":"low","t":98.5,"s":0.845,"c":1},{"p":8,"g":"low","t":100.5,"s":0.845,"c":1},{"p":8,"g":"low","t":102.9,"s":0.84,"c":1},{"p":8,"g":"low","t":103.8,"s":0.816},{"p":8,"g":"low","t":105.5,"s":0.816,"c":1},{"p":8,"g":"low","t":108,"s":0.816,"c":1},{"p":8,"g":"low","t":112.5,"s":0.816,"c":1},{"p":8,"g":"low","t":116,"s":0.816,"c":1},{"p":8,"g":"low","t":119.5,"s":0.752},{"p":8,"g":"low","t":121.3,"s":0.752,"c":1},{"p":8,"g":"low","t":128.3,"s":0.752,"c":1},{"p":8,"g":"low","t":144,"s":0.752,"c":1},{"p":8,"g":"low","t":147,"s":0.752,"c":1},{"p":8,"g":"low","t":151,"s":0.752,"c":1},{"p":8,"g":"low","t":155,"s":0.752,"c":1},{"p":8,"g":"low","t":159.8,"s":0.752,"c":1},{"p":8,"g":"low","t":163.3,"s":0.752,"c":1},{"p":8,"g":"low","t":172.9,"s":0.752,"c":1},{"p":8,"g":"low","t":173.8,"s":0.752},
{"p":8,"g":"high","t":0,"s":1},{"p":8,"g":"high","t":1.5,"s":1,"c":1},{"p":8,"g":"high","t":4,"s":0.994,"c":1},{"p":8,"g":"high","t":8.4,"s":0.982,"c":1},{"p":8,"g":"high","t":12.8,"s":0.963},{"p":8,"g":"high","t":13.7,"s":0.933},{"p":8,"g":"high","t":18,"s":0.933,"c":1},{"p":8,"g":"high","t":23.3,"s":0.904},{"p":8,"g":"high","t":25,"s":0.88,"c":1},{"p":8,"g":"high","t":28.5,"s":0.875,"c":1},{"p":8,"g":"high","t":32,"s":0.87},{"p":8,"g":"high","t":37.3,"s":0.86,"c":1},{"p":8,"g":"high","t":41.5,"s":0.855,"c":1},{"p":8,"g":"high","t":46,"s":0.845,"c":1},{"p":8,"g":"high","t":48,"s":0.836,"c":1},{"p":8,"g":"high","t":49.5,"s":0.826,"c":1},{"p":8,"g":"high","t":51.5,"s":0.816,"c":1},{"p":8,"g":"high","t":53,"s":0.806,"c":1},{"p":8,"g":"high","t":54.7,"s":0.794,"c":1},{"p":8,"g":"high","t":56.5,"s":0.782,"c":1},{"p":8,"g":"high","t":58.2,"s":0.77,"c":1},{"p":8,"g":"high","t":60,"s":0.757,"c":1},{"p":8,"g":"high","t":63.5,"s":0.747,"c":1},{"p":8,"g":"high","t":67,"s":0.738,"c":1},{"p":8,"g":"high","t":70.5,"s":0.728,"c":1},{"p":8,"g":"high","t":74,"s":0.718,"c":1},{"p":8,"g":"high","t":77.5,"s":0.71,"c":1},{"p":8,"g":"high","t":81,"s":0.703,"c":1},{"p":8,"g":"high","t":84.5,"s":0.689,"c":1},{"p":8,"g":"high","t":88,"s":0.689,"c":1},{"p":8,"g":"high","t":91.5,"s":0.689,"c":1},{"p":8,"g":"high","t":95,"s":0.689,"c":1},{"p":8,"g":"high","t":98.5,"s":0.689,"c":1},{"p":8,"g":"high","t":102,"s":0.689,"c":1},{"p":8,"g":"high","t":105,"s":0.689,"c":1},{"p":8,"g":"high","t":107.3,"s":0.679,"c":1},{"p":8,"g":"high","t":110.8,"s":0.664,"c":1},{"p":8,"g":"high","t":113.4,"s":0.576},{"p":8,"g":"high","t":117,"s":0.576,"c":1},{"p":8,"g":"high","t":120.5,"s":0.576,"c":1},{"p":8,"g":"high","t":124,"s":0.576,"c":1},{"p":8,"g":"high","t":130.9,"s":0.537},{"p":8,"g":"high","t":134.5,"s":0.537,"c":1},{"p":8,"g":"high","t":138,"s":0.537,"c":1},{"p":8,"g":"high","t":144,"s":0.478},{"p":8,"g":"high","t":146.5,"s":0.478,"c":1},{"p":8,"g":"high","t":149,"s":0.478,"c":1},{"p":8,"g":"high","t":158.9,"s":0.358},{"p":8,"g":"high","t":166.8,"s":0.358,"c":1},{"p":8,"g":"high","t":176.4,"s":0.358,"c":1},{"p":8,"g":"high","t":237.7,"s":0.358,"c":1}
]
},
"concat": [
  {"width": 472, "height": 368, "layer": [
   {"data": {"name": "km"}, "transform": [{"filter": "datum.p == 1"}],
    "encoding": {
     "x": {"field": "t", "type": "quantitative", "title": "Months", "scale": {"domain": [0, 248], "nice": false, "zero": false}, "axis": {"values": [0, 50, 100, 150, 200]}},
     "y": {"field": "s", "type": "quantitative", "title": "Probability", "scale": {"domain": [-0.04, 1.04], "nice": false, "zero": false}, "axis": {"values": [0, 0.2, 0.4, 0.6, 0.8, 1], "format": ".1f"}},
     "color": {"field": "g", "type": "nominal", "scale": {"domain": ["low", "high"], "range": ["#000000", "#e52421"]}, "legend": {"title": "Expression", "legendX": 279, "legendY": 6, "symbolType": "M-4,0H4", "symbolSize": 116, "symbolStrokeWidth": 4, "symbolOffset": 13, "labelOffset": 21}}},
    "layer": [
     {"mark": {"type": "line", "interpolate": "step-after", "strokeWidth": 3}},
     {"transform": [{"filter": "datum.c == 1"}], "mark": {"type": "point", "shape": "M-1,0H1M0,-1V1", "size": 81, "filled": false, "strokeWidth": 2.5, "opacity": 1}}]},
   {"data": {"name": "notes"}, "transform": [{"filter": "datum.p == 1 && datum.k == 'T'"}], "mark": {"type": "text", "align": "center", "baseline": "alphabetic", "fontSize": 39, "fontWeight": "normal", "color": "#222222"}, "encoding": {"x": {"datum": 120.8, "type": "quantitative"}, "y": {"datum": 1.087, "type": "quantitative"}, "text": {"field": "txt"}}},
   {"data": {"name": "notes"}, "transform": [{"filter": "datum.p == 1 && datum.k == 'P'"}], "mark": {"type": "text", "align": "left", "baseline": "alphabetic", "fontSize": 34, "fontWeight": "bold", "color": "#1a1a1a"}, "encoding": {"x": {"datum": 149.7, "type": "quantitative"}, "y": {"datum": 0.594, "type": "quantitative"}, "text": {"field": "txt"}}},
   {"data": {"name": "notes"}, "transform": [{"filter": "datum.p == 1 && datum.k == 'L'"}], "mark": {"type": "text", "align": "left", "baseline": "alphabetic", "fontSize": 42, "fontWeight": "bold", "color": "#000000"}, "encoding": {"x": {"datum": -28.9, "type": "quantitative"}, "y": {"datum": 1.145, "type": "quantitative"}, "text": {"field": "txt"}}}
  ]},
  {"width": 472, "height": 368, "layer": [
   {"data": {"name": "km"}, "transform": [{"filter": "datum.p == 2"}],
    "encoding": {
     "x": {"field": "t", "type": "quantitative", "title": "Months", "scale": {"domain": [0, 299], "nice": false, "zero": false}, "axis": {"values": [0, 50, 100, 150, 200, 250]}},
     "y": {"field": "s", "type": "quantitative", "title": "Probability", "scale": {"domain": [-0.04, 1.04], "nice": false, "zero": false}, "axis": {"values": [0, 0.2, 0.4, 0.6, 0.8, 1], "format": ".1f"}},
     "color": {"field": "g", "type": "nominal", "scale": {"domain": ["low", "high"], "range": ["#000000", "#e52421"]}, "legend": {"title": "Expression", "legendX": 279, "legendY": 6, "symbolType": "M-4,0H4", "symbolSize": 116, "symbolStrokeWidth": 4, "symbolOffset": 13, "labelOffset": 21}}},
    "layer": [
     {"mark": {"type": "line", "interpolate": "step-after", "strokeWidth": 3}},
     {"transform": [{"filter": "datum.c == 1"}], "mark": {"type": "point", "shape": "M-1,0H1M0,-1V1", "size": 81, "filled": false, "strokeWidth": 2.5, "opacity": 1}}]},
   {"data": {"name": "notes"}, "transform": [{"filter": "datum.p == 2 && datum.k == 'T'"}], "mark": {"type": "text", "align": "center", "baseline": "alphabetic", "fontSize": 39, "fontWeight": "normal", "color": "#222222"}, "encoding": {"x": {"datum": 146.3, "type": "quantitative"}, "y": {"datum": 1.087, "type": "quantitative"}, "text": {"field": "txt"}}},
   {"data": {"name": "notes"}, "transform": [{"filter": "datum.p == 2 && datum.k == 'P'"}], "mark": {"type": "text", "align": "left", "baseline": "alphabetic", "fontSize": 34, "fontWeight": "bold", "color": "#1a1a1a"}, "encoding": {"x": {"datum": 179.6, "type": "quantitative"}, "y": {"datum": 0.606, "type": "quantitative"}, "text": {"field": "txt"}}}
  ]},
  {"width": 61, "height": 368, "data": {"values": [{"z": 0}]}, "mark": {"type": "point", "opacity": 0}, "view": {"stroke": null}},
  {"width": 472, "height": 368, "layer": [
   {"data": {"name": "km"}, "transform": [{"filter": "datum.p == 3"}],
    "encoding": {
     "x": {"field": "t", "type": "quantitative", "title": "Months", "scale": {"domain": [0, 248], "nice": false, "zero": false}, "axis": {"values": [0, 50, 100, 150, 200]}},
     "y": {"field": "s", "type": "quantitative", "title": "Probability", "scale": {"domain": [-0.04, 1.04], "nice": false, "zero": false}, "axis": {"values": [0, 0.2, 0.4, 0.6, 0.8, 1], "format": ".1f"}},
     "color": {"field": "g", "type": "nominal", "scale": {"domain": ["low", "high"], "range": ["#000000", "#e52421"]}, "legend": {"title": "Expression", "legendX": 277, "legendY": 6, "symbolType": "M-4,0H4", "symbolSize": 116, "symbolStrokeWidth": 4, "symbolOffset": 13, "labelOffset": 21}}},
    "layer": [
     {"mark": {"type": "line", "interpolate": "step-after", "strokeWidth": 3}},
     {"transform": [{"filter": "datum.c == 1"}], "mark": {"type": "point", "shape": "M-1,0H1M0,-1V1", "size": 81, "filled": false, "strokeWidth": 2.5, "opacity": 1}}]},
   {"data": {"name": "notes"}, "transform": [{"filter": "datum.p == 3 && datum.k == 'T'"}], "mark": {"type": "text", "align": "center", "baseline": "alphabetic", "fontSize": 39, "fontWeight": "normal", "color": "#222222"}, "encoding": {"x": {"datum": 113, "type": "quantitative"}, "y": {"datum": 1.087, "type": "quantitative"}, "text": {"field": "txt"}}},
   {"data": {"name": "notes"}, "transform": [{"filter": "datum.p == 3 && datum.k == 'P'"}], "mark": {"type": "text", "align": "left", "baseline": "alphabetic", "fontSize": 34, "fontWeight": "bold", "color": "#1a1a1a"}, "encoding": {"x": {"datum": 147.6, "type": "quantitative"}, "y": {"datum": 0.606, "type": "quantitative"}, "text": {"field": "txt"}}},
   {"data": {"name": "notes"}, "transform": [{"filter": "datum.p == 3 && datum.k == 'L'"}], "mark": {"type": "text", "align": "left", "baseline": "alphabetic", "fontSize": 42, "fontWeight": "bold", "color": "#000000"}, "encoding": {"x": {"datum": -57.8, "type": "quantitative"}, "y": {"datum": 1.09, "type": "quantitative"}, "text": {"field": "txt"}}}
  ]},
  {"width": 472, "height": 368, "layer": [
   {"data": {"name": "km"}, "transform": [{"filter": "datum.p == 4"}],
    "encoding": {
     "x": {"field": "t", "type": "quantitative", "title": "Months", "scale": {"domain": [0, 248], "nice": false, "zero": false}, "axis": {"values": [0, 50, 100, 150, 200]}},
     "y": {"field": "s", "type": "quantitative", "title": "Probability", "scale": {"domain": [-0.04, 1.04], "nice": false, "zero": false}, "axis": {"values": [0, 0.2, 0.4, 0.6, 0.8, 1], "format": ".1f"}},
     "color": {"field": "g", "type": "nominal", "scale": {"domain": ["low", "high"], "range": ["#000000", "#e52421"]}, "legend": {"title": "Expression", "legendX": 279, "legendY": 6, "symbolType": "M-4,0H4", "symbolSize": 116, "symbolStrokeWidth": 4, "symbolOffset": 13, "labelOffset": 21}}},
    "layer": [
     {"mark": {"type": "line", "interpolate": "step-after", "strokeWidth": 3}},
     {"transform": [{"filter": "datum.c == 1"}], "mark": {"type": "point", "shape": "M-1,0H1M0,-1V1", "size": 81, "filled": false, "strokeWidth": 2.5, "opacity": 1}}]},
   {"data": {"name": "notes"}, "transform": [{"filter": "datum.p == 4 && datum.k == 'T'"}], "mark": {"type": "text", "align": "center", "baseline": "alphabetic", "fontSize": 39, "fontWeight": "normal", "color": "#222222"}, "encoding": {"x": {"datum": 115.1, "type": "quantitative"}, "y": {"datum": 1.087, "type": "quantitative"}, "text": {"field": "txt"}}},
   {"data": {"name": "notes"}, "transform": [{"filter": "datum.p == 4 && datum.k == 'P'"}], "mark": {"type": "text", "align": "left", "baseline": "alphabetic", "fontSize": 34, "fontWeight": "bold", "color": "#1a1a1a"}, "encoding": {"x": {"datum": 149.7, "type": "quantitative"}, "y": {"datum": 0.603, "type": "quantitative"}, "text": {"field": "txt"}}}
  ]},
  {"width": 472, "height": 368, "layer": [
   {"data": {"name": "km"}, "transform": [{"filter": "datum.p == 5"}],
    "encoding": {
     "x": {"field": "t", "type": "quantitative", "title": "Months", "scale": {"domain": [0, 248], "nice": false, "zero": false}, "axis": {"values": [0, 50, 100, 150, 200]}},
     "y": {"field": "s", "type": "quantitative", "title": "Probability", "scale": {"domain": [-0.04, 1.04], "nice": false, "zero": false}, "axis": {"values": [0, 0.2, 0.4, 0.6, 0.8, 1], "format": ".1f"}},
     "color": {"field": "g", "type": "nominal", "scale": {"domain": ["low", "high"], "range": ["#000000", "#e52421"]}, "legend": {"title": "Expression", "legendX": 276, "legendY": 9, "symbolType": "M-4,0H4", "symbolSize": 116, "symbolStrokeWidth": 4, "symbolOffset": 13, "labelOffset": 21}}},
    "layer": [
     {"mark": {"type": "line", "interpolate": "step-after", "strokeWidth": 3}},
     {"transform": [{"filter": "datum.c == 1"}], "mark": {"type": "point", "shape": "M-1,0H1M0,-1V1", "size": 81, "filled": false, "strokeWidth": 2.5, "opacity": 1}}]},
   {"data": {"name": "notes"}, "transform": [{"filter": "datum.p == 5 && datum.k == 'T'"}], "mark": {"type": "text", "align": "center", "baseline": "alphabetic", "fontSize": 39, "fontWeight": "normal", "color": "#222222"}, "encoding": {"x": {"datum": 122.4, "type": "quantitative"}, "y": {"datum": 1.081, "type": "quantitative"}, "text": {"field": "txt"}}},
   {"data": {"name": "notes"}, "transform": [{"filter": "datum.p == 5 && datum.k == 'P'"}], "mark": {"type": "text", "align": "left", "baseline": "alphabetic", "fontSize": 34, "fontWeight": "bold", "color": "#1a1a1a"}, "encoding": {"x": {"datum": 147.6, "type": "quantitative"}, "y": {"datum": 0.588, "type": "quantitative"}, "text": {"field": "txt"}}},
   {"data": {"name": "notes"}, "transform": [{"filter": "datum.p == 5 && datum.k == 'L'"}], "mark": {"type": "text", "align": "left", "baseline": "alphabetic", "fontSize": 42, "fontWeight": "bold", "color": "#000000"}, "encoding": {"x": {"datum": -29.4, "type": "quantitative"}, "y": {"datum": 1.19, "type": "quantitative"}, "text": {"field": "txt"}}}
  ]},
  {"width": 472, "height": 368, "layer": [
   {"data": {"name": "km"}, "transform": [{"filter": "datum.p == 6"}],
    "encoding": {
     "x": {"field": "t", "type": "quantitative", "title": "Months", "scale": {"domain": [0, 248], "nice": false, "zero": false}, "axis": {"values": [0, 50, 100, 150, 200]}},
     "y": {"field": "s", "type": "quantitative", "title": "Probability", "scale": {"domain": [-0.04, 1.04], "nice": false, "zero": false}, "axis": {"values": [0, 0.2, 0.4, 0.6, 0.8, 1], "format": ".1f"}},
     "color": {"field": "g", "type": "nominal", "scale": {"domain": ["low", "high"], "range": ["#000000", "#e52421"]}, "legend": {"title": "Expression", "legendX": 275, "legendY": 10, "symbolType": "M-4,0H4", "symbolSize": 116, "symbolStrokeWidth": 4, "symbolOffset": 13, "labelOffset": 21}}},
    "layer": [
     {"mark": {"type": "line", "interpolate": "step-after", "strokeWidth": 3}},
     {"transform": [{"filter": "datum.c == 1"}], "mark": {"type": "point", "shape": "M-1,0H1M0,-1V1", "size": 81, "filled": false, "strokeWidth": 2.5, "opacity": 1}}]},
   {"data": {"name": "notes"}, "transform": [{"filter": "datum.p == 6 && datum.k == 'T'"}], "mark": {"type": "text", "align": "center", "baseline": "alphabetic", "fontSize": 39, "fontWeight": "normal", "color": "#222222"}, "encoding": {"x": {"datum": 123.5, "type": "quantitative"}, "y": {"datum": 1.081, "type": "quantitative"}, "text": {"field": "txt"}}},
   {"data": {"name": "notes"}, "transform": [{"filter": "datum.p == 6 && datum.k == 'P'"}], "mark": {"type": "text", "align": "left", "baseline": "alphabetic", "fontSize": 34, "fontWeight": "bold", "color": "#1a1a1a"}, "encoding": {"x": {"datum": 146.6, "type": "quantitative"}, "y": {"datum": 0.594, "type": "quantitative"}, "text": {"field": "txt"}}}
  ]},
  {"width": 61, "height": 368, "data": {"values": [{"z": 0}]}, "mark": {"type": "point", "opacity": 0}, "view": {"stroke": null}},
  {"width": 472, "height": 368, "layer": [
   {"data": {"name": "km"}, "transform": [{"filter": "datum.p == 7"}],
    "encoding": {
     "x": {"field": "t", "type": "quantitative", "title": "Months", "scale": {"domain": [0, 248], "nice": false, "zero": false}, "axis": {"values": [0, 50, 100, 150, 200]}},
     "y": {"field": "s", "type": "quantitative", "title": "Probability", "scale": {"domain": [-0.04, 1.04], "nice": false, "zero": false}, "axis": {"values": [0, 0.2, 0.4, 0.6, 0.8, 1], "format": ".1f"}},
     "color": {"field": "g", "type": "nominal", "scale": {"domain": ["low", "high"], "range": ["#000000", "#e52421"]}, "legend": {"title": "Expression", "legendX": 277, "legendY": 14, "symbolType": "M-4,0H4", "symbolSize": 116, "symbolStrokeWidth": 4, "symbolOffset": 13, "labelOffset": 21}}},
    "layer": [
     {"mark": {"type": "line", "interpolate": "step-after", "strokeWidth": 3}},
     {"transform": [{"filter": "datum.c == 1"}], "mark": {"type": "point", "shape": "M-1,0H1M0,-1V1", "size": 81, "filled": false, "strokeWidth": 2.5, "opacity": 1}}]},
   {"data": {"name": "notes"}, "transform": [{"filter": "datum.p == 7 && datum.k == 'T'"}], "mark": {"type": "text", "align": "center", "baseline": "alphabetic", "fontSize": 39, "fontWeight": "normal", "color": "#222222"}, "encoding": {"x": {"datum": 117.2, "type": "quantitative"}, "y": {"datum": 1.081, "type": "quantitative"}, "text": {"field": "txt"}}},
   {"data": {"name": "notes"}, "transform": [{"filter": "datum.p == 7 && datum.k == 'P'"}], "mark": {"type": "text", "align": "left", "baseline": "alphabetic", "fontSize": 34, "fontWeight": "bold", "color": "#1a1a1a"}, "encoding": {"x": {"datum": 147.6, "type": "quantitative"}, "y": {"datum": 0.582, "type": "quantitative"}, "text": {"field": "txt"}}},
   {"data": {"name": "notes"}, "transform": [{"filter": "datum.p == 7 && datum.k == 'L'"}], "mark": {"type": "text", "align": "left", "baseline": "alphabetic", "fontSize": 42, "fontWeight": "bold", "color": "#000000"}, "encoding": {"x": {"datum": -58.8, "type": "quantitative"}, "y": {"datum": 0.987, "type": "quantitative"}, "text": {"field": "txt"}}}
  ]},
  {"width": 472, "height": 368, "layer": [
   {"data": {"name": "km"}, "transform": [{"filter": "datum.p == 8"}],
    "encoding": {
     "x": {"field": "t", "type": "quantitative", "title": "Months", "scale": {"domain": [0, 248], "nice": false, "zero": false}, "axis": {"values": [0, 50, 100, 150, 200]}},
     "y": {"field": "s", "type": "quantitative", "title": "Probability", "scale": {"domain": [-0.04, 1.04], "nice": false, "zero": false}, "axis": {"values": [0, 0.2, 0.4, 0.6, 0.8, 1], "format": ".1f"}},
     "color": {"field": "g", "type": "nominal", "scale": {"domain": ["low", "high"], "range": ["#000000", "#e52421"]}, "legend": {"title": "Expression", "legendX": 282, "legendY": 18, "symbolType": "M-4,0H4", "symbolSize": 116, "symbolStrokeWidth": 4, "symbolOffset": 63.5, "labelOffset": 22.5}}},
    "layer": [
     {"mark": {"type": "line", "interpolate": "step-after", "strokeWidth": 3}},
     {"transform": [{"filter": "datum.c == 1"}], "mark": {"type": "point", "shape": "M-1,0H1M0,-1V1", "size": 81, "filled": false, "strokeWidth": 2.5, "opacity": 1}}]},
   {"data": {"name": "notes"}, "transform": [{"filter": "datum.p == 8 && datum.k == 'T'"}], "mark": {"type": "text", "align": "center", "baseline": "alphabetic", "fontSize": 39, "fontWeight": "normal", "color": "#222222"}, "encoding": {"x": {"datum": 116.6, "type": "quantitative"}, "y": {"datum": 1.081, "type": "quantitative"}, "text": {"field": "txt"}}},
   {"data": {"name": "notes"}, "transform": [{"filter": "datum.p == 8 && datum.k == 'P'"}], "mark": {"type": "text", "align": "left", "baseline": "alphabetic", "fontSize": 34, "fontWeight": "bold", "color": "#1a1a1a"}, "encoding": {"x": {"datum": 152.4, "type": "quantitative"}, "y": {"datum": 0.576, "type": "quantitative"}, "text": {"field": "txt"}}}
  ]}
],
"config": {
 "font": "Liberation Sans",
 "background": "white",
 "view": {"stroke": "#000000", "strokeWidth": 2.5},
 "axis": {"grid": false, "domain": false, "tickColor": "#000000", "tickWidth": 2.5, "tickSize": 8, "labelFont": "Liberation Sans", "labelFontWeight": "bold", "labelColor": "#000000", "titleFont": "Liberation Sans", "titleFontWeight": "bold", "titleColor": "#000000", "labelFlush": false, "labelOverlap": false},
 "axisX": {"labelFontSize": 34, "labelPadding": 12, "titleFontSize": 34, "titleX": 248, "titleY": 85, "titleBaseline": "alphabetic"},
 "axisY": {"labelFontSize": 32, "labelAngle": 270, "labelAlign": "center", "labelBaseline": "bottom", "labelPadding": 6, "titleFontSize": 32, "titleAngle": 270, "titleX": -62, "titleY": 167, "titleBaseline": "alphabetic"},
 "legend": {"orient": "none", "padding": 0, "rowPadding": 0, "titleFont": "Liberation Sans", "titleFontSize": 34, "titleFontWeight": "bold", "titleColor": "#1a1a1a", "titlePadding": 3, "titleLimit": 1000, "labelLimit": 1000, "labelFont": "Liberation Sans", "labelFontSize": 34, "labelFontWeight": "bold", "labelColor": "#1a1a1a"}
}
}
